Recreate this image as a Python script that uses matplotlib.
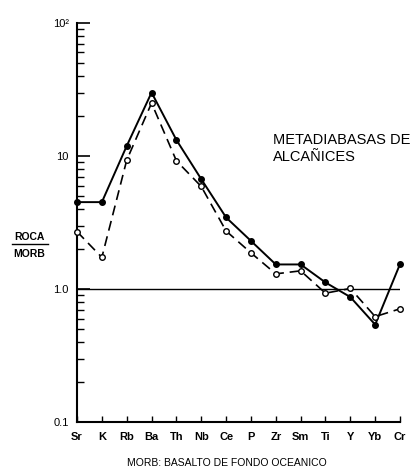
import matplotlib.pyplot as plt
from matplotlib.ticker import LogLocator, FixedLocator, NullFormatter

# elementos normalizados a MORB
elements = ["Sr", "K", "Rb", "Ba", "Th", "Nb", "Ce", "P", "Zr", "Sm", "Ti", "Y", "Yb", "Cr"]
solid_vals = [4.5, 4.5, 11.9, 30.0, 13.2, 6.7, 3.45, 2.3, 1.53, 1.53, 1.12, 0.87, 0.54, 1.54]
open_vals = [2.7, 1.73, 9.3, 25.0, 9.2, 5.9, 2.73, 1.87, 1.30, 1.37, 0.93, 1.01, 0.62, 0.71]
ytick_vals = [0.1, 1.0, 10, 100]
ytick_labels = ["0.1", "1.0", "10", "10²"]

plt.rcParams["font.family"] = ["Liberation Sans", "DejaVu Sans"]

fig = plt.figure(figsize=(4.17, 4.76), dpi=100)
ax = fig.add_axes([0.1847, 0.1134, 0.7746, 0.8383])

x = list(range(len(elements)))
ax.axhline(1.0, color="black", lw=1.0)
ax.plot(x, solid_vals, "-", color="black", lw=1.4, marker="o", ms=4,
        mfc="black", mec="black", clip_on=False, zorder=3)
ax.plot(x, open_vals, "--", color="black", lw=1.2, dashes=(6, 3.5), marker="o", ms=4,
        mfc="white", mec="black", mew=1.0, clip_on=False, zorder=3)

ax.set_yscale("log")
ax.set_ylim(0.1, 100)
ax.set_xlim(0, len(elements) - 1)

ax.spines["top"].set_visible(False)
ax.spines["right"].set_visible(False)
ax.spines["left"].set_linewidth(1.5)
ax.spines["bottom"].set_linewidth(1.5)

ax.yaxis.set_major_locator(FixedLocator(ytick_vals))
ax.set_yticklabels(ytick_labels)
ax.yaxis.set_minor_locator(LogLocator(base=10, subs=range(2, 10)))
ax.yaxis.set_minor_formatter(NullFormatter())
ax.tick_params(axis="y", which="major", direction="in", length=9, width=1.2,
               labelsize=8, pad=6)
ax.tick_params(axis="y", which="minor", direction="in", length=5, width=1.0)

ax.set_xticks(x)
ax.set_xticklabels(elements, fontweight="bold")
ax.tick_params(axis="x", direction="in", length=4, width=1.0, labelsize=8, pad=7)

# ROCA / MORB
fig.text(0.071, 0.4916, "ROCA", ha="center", va="bottom", fontsize=7.5, fontweight="bold")
fig.text(0.071, 0.476, "MORB", ha="center", va="top", fontsize=7.5, fontweight="bold")
fig.add_artist(plt.Line2D([0.028, 0.114], [0.4874, 0.4874], color="black", lw=1.0))

fig.text(0.655, 0.688, "METADIABASAS DE\nALCAÑICES", fontsize=10.5,
         linespacing=1.25, va="center", ha="left")

fig.text(0.543, 0.027, "MORB: BASALTO DE FONDO OCEANICO", ha="center", va="center",
         fontsize=7.5)

plt.savefig("out.png", dpi=100)
print("Saved out.png")
